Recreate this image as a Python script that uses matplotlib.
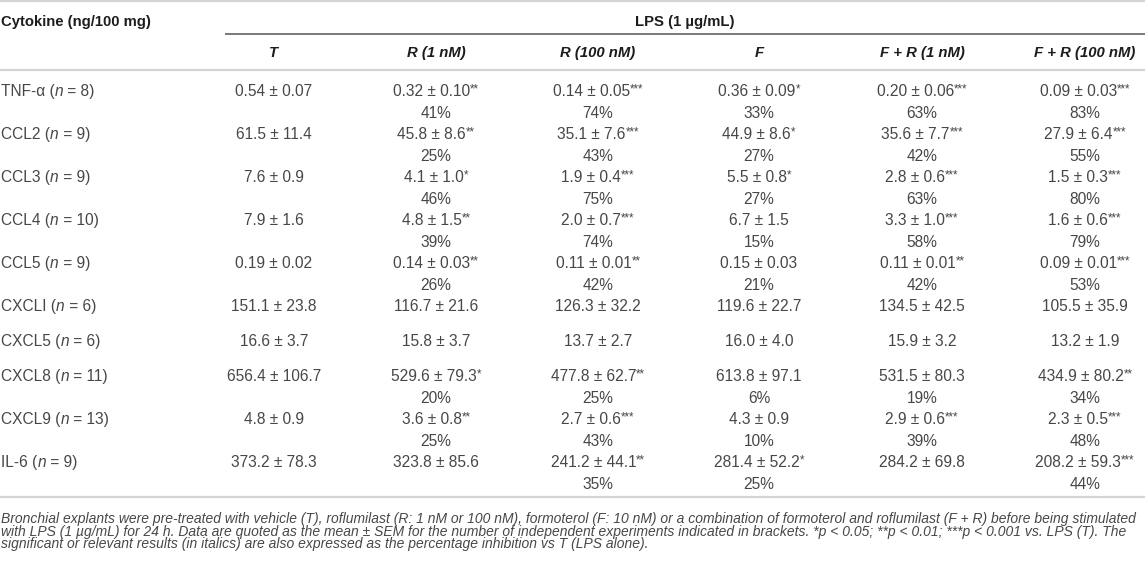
import matplotlib
matplotlib.use("Agg")
import matplotlib.pyplot as plt

plt.rcParams['font.family'] = ['Liberation Sans', 'DejaVu Sans']

# ---- data ----
cytokines = ["TNF-α", "CCL2", "CCL3", "CCL4", "CCL5", "CXCLI", "CXCL5", "CXCL8", "CXCL9", "IL-6"]
n_values = [8, 9, 9, 10, 9, 6, 6, 11, 13, 9]
groups = ["T", "R (1 nM)", "R (100 nM)", "F", "F + R (1 nM)", "F + R (100 nM)"]

means = [
    ["0.54", "0.32", "0.14", "0.36", "0.20", "0.09"],
    ["61.5", "45.8", "35.1", "44.9", "35.6", "27.9"],
    ["7.6", "4.1", "1.9", "5.5", "2.8", "1.5"],
    ["7.9", "4.8", "2.0", "6.7", "3.3", "1.6"],
    ["0.19", "0.14", "0.11", "0.15", "0.11", "0.09"],
    ["151.1", "116.7", "126.3", "119.6", "134.5", "105.5"],
    ["16.6", "15.8", "13.7", "16.0", "15.9", "13.2"],
    ["656.4", "529.6", "477.8", "613.8", "531.5", "434.9"],
    ["4.8", "3.6", "2.7", "4.3", "2.9", "2.3"],
    ["373.2", "323.8", "241.2", "281.4", "284.2", "208.2"],
]
sems = [
    ["0.07", "0.10", "0.05", "0.09", "0.06", "0.03"],
    ["11.4", "8.6", "7.6", "8.6", "7.7", "6.4"],
    ["0.9", "1.0", "0.4", "0.8", "0.6", "0.3"],
    ["1.6", "1.5", "0.7", "1.5", "1.0", "0.6"],
    ["0.02", "0.03", "0.01", "0.03", "0.01", "0.01"],
    ["23.8", "21.6", "32.2", "22.7", "42.5", "35.9"],
    ["3.7", "3.7", "2.7", "4.0", "3.2", "1.9"],
    ["106.7", "79.3", "62.7", "97.1", "80.3", "80.2"],
    ["0.9", "0.8", "0.6", "0.9", "0.6", "0.5"],
    ["78.3", "85.6", "44.1", "52.2", "69.8", "59.3"],
]
stars = [
    ["", "**", "***", "*", "***", "***"],
    ["", "**", "***", "*", "***", "***"],
    ["", "*", "***", "*", "***", "***"],
    ["", "**", "***", "", "***", "***"],
    ["", "**", "**", "", "**", "***"],
    ["", "", "", "", "", ""],
    ["", "", "", "", "", ""],
    ["", "*", "**", "", "", "**"],
    ["", "**", "***", "", "***", "***"],
    ["", "", "**", "*", "", "***"],
]
inhibition = [
    ["", "41%", "74%", "33%", "63%", "83%"],
    ["", "25%", "43%", "27%", "42%", "55%"],
    ["", "46%", "75%", "27%", "63%", "80%"],
    ["", "39%", "74%", "15%", "58%", "79%"],
    ["", "26%", "42%", "21%", "42%", "53%"],
    ["", "", "", "", "", ""],
    ["", "", "", "", "", ""],
    ["", "20%", "25%", "6%", "19%", "34%"],
    ["", "25%", "43%", "10%", "39%", "48%"],
    ["", "", "35%", "25%", "", "44%"],
]
caption_lines = [
    "Bronchial explants were pre-treated with vehicle (T), roflumilast (R: 1 nM or 100 nM), formoterol (F: 10 nM) or a combination of formoterol and roflumilast (F + R) before being stimulated",
    "with LPS (1 µg/mL) for 24 h. Data are quoted as the mean ± SEM for the number of independent experiments indicated in brackets. *p < 0.05; **p < 0.01; ***p < 0.001 vs. LPS (T). The",
    "significant or relevant results (in italics) are also expressed as the percentage inhibition vs T (LPS alone).",
]

# ---- layout ----
W, H = 1145, 567
fig = plt.figure(figsize=(W / 100, H / 100), dpi=100)
ax = fig.add_axes([0, 0, 1, 1])
ax.set_xlim(0, W)
ax.set_ylim(H, 0)
ax.axis("off")
renderer = fig.canvas.get_renderer()

BODY = "#474747"
HEAD = "#1c1c1c"
GRID = "#d4d4d4"
FS = 11.2
col_x = [274, 436, 598, 759, 922, 1085]


def runs(x, y, parts, ha="left"):
    # parts: list of (text, props, dy); laid side by side
    objs = []
    for txt, props, dy in parts:
        t = ax.text(0, y + dy, txt, va="baseline", ha="left", **props)
        objs.append(t)
    widths = [t.get_window_extent(renderer).width for t in objs]
    total = sum(widths)
    x0 = x - total / 2 if ha == "center" else x
    for t, w in zip(objs, widths):
        t.set_x(x0)
        x0 += w


body = dict(fontsize=FS, color=BODY)
star = dict(body, fontsize=FS * 0.74)

# rules
ax.plot([0, W], [1, 1], color=GRID, lw=1.6, solid_capstyle="butt")
ax.plot([0, W], [70, 70], color=GRID, lw=1.6, solid_capstyle="butt")
ax.plot([225, W], [34, 34], color="#555555", lw=1.1, solid_capstyle="butt")

# header
ax.text(1, 26, "Cytokine (ng/100 mg)", fontsize=10.7, fontweight="bold", color=HEAD, va="baseline")
ax.text(685, 26, "LPS (1 µg/mL)", fontsize=10.7, fontweight="bold", color=HEAD, va="baseline", ha="center")
for gx, g in zip(col_x, groups):
    ax.text(gx, 57, g, fontsize=10.7, fontweight="bold", fontstyle="italic", color=HEAD,
            va="baseline", ha="center")

# body rows
y = 90.7
for i, name in enumerate(cytokines):
    base = y + 5.6
    runs(1, base, [(name + " (", body, 0), ("n", dict(body, fontstyle="italic"), 0),
                   (" = %d)" % n_values[i], body, 0)])
    for j, cx in enumerate(col_x):
        parts = [(means[i][j] + " ± " + sems[i][j], body, 0)]
        if stars[i][j]:
            parts.append((stars[i][j], star, -3.6))
        runs(cx, base, parts, ha="center")
        if inhibition[i][j]:
            ax.text(cx, base + 21.5, inhibition[i][j], va="baseline", ha="center", **body)
    has_pct = any(inhibition[i])
    y += 43 if has_pct else 35

ax.plot([0, W], [497, 497], color=GRID, lw=1.6, solid_capstyle="butt")

ax.text(1, 512, "\n".join(caption_lines), fontsize=10, fontstyle="italic", color=BODY,
        va="top", linespacing=0.88)

fig.savefig("out.png", dpi=100)
